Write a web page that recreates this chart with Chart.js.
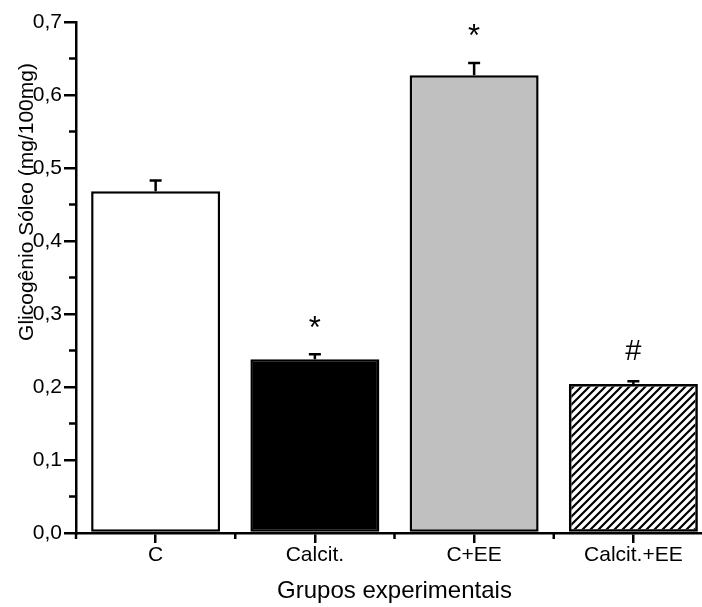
<!DOCTYPE html>
<html>
<head>
<meta charset="utf-8">
<script src="https://cdn.jsdelivr.net/npm/chart.js@4"></script>
<style>
  html, body { margin: 0; padding: 0; background: #fff; overflow: hidden; }
  #wrap { width: 716px; height: 607px; }
</style>
</head>
<body>
<div id="wrap"><canvas id="graficoBarras"></canvas></div>
<script>
const grupos = ["C", "Calcit.", "C+EE", "Calcit.+EE"];
const medias = [0.468, 0.238, 0.627, 0.204];
const erros = [0.015, 0.007, 0.017, 0.004];
const marcas = ["", "*", "*", "#"];
const ticksY = [0, 0.1, 0.2, 0.3, 0.4, 0.5, 0.6, 0.7];

// hachurado da ultima barra
function hachura() {
    const c = document.createElement("canvas");
    c.width = 8; c.height = 8;
    const g = c.getContext("2d");
    g.strokeStyle = "#000";
    g.lineWidth = 2.2;
    g.beginPath();
    g.moveTo(-2, 10); g.lineTo(10, -2);
    g.moveTo(-2, 2); g.lineTo(2, -2);
    g.moveTo(6, 10); g.lineTo(10, 6);
    g.stroke();
    return g.createPattern(c, "repeat");
}

const fonte = "'Liberation Sans', Arial, sans-serif";

const extras = {
    id: "extras",
    afterDatasetsDraw(chart) {
        const ctx = chart.ctx;
        const x = chart.scales.x, y = chart.scales.y;
        const meta = chart.getDatasetMeta(0);
        ctx.save();
        ctx.strokeStyle = "#000";
        ctx.lineWidth = 2.5;
        // barras de erro (so para cima)
        meta.data.forEach((bar, i) => {
            const yt = y.getPixelForValue(medias[i] + erros[i]);
            const yb = y.getPixelForValue(medias[i]);
            ctx.beginPath();
            ctx.moveTo(bar.x, yb); ctx.lineTo(bar.x, yt);
            ctx.moveTo(bar.x - 6, yt); ctx.lineTo(bar.x + 6, yt);
            ctx.stroke();
            if (marcas[i]) {
                ctx.fillStyle = "#000";
                ctx.textAlign = "center";
                ctx.textBaseline = "middle";
                if (marcas[i] === "#") {
                    ctx.font = "29px " + fonte;
                    ctx.fillText(marcas[i], bar.x, yt - 29);
                } else {
                    ctx.font = "31px " + fonte;
                    ctx.fillText(marcas[i], bar.x, yt - 25);
                }
            }
        });
        // ticks menores do eixo y
        for (let i = 0; i < ticksY.length - 1; i++) {
            const py = y.getPixelForValue((ticksY[i] + ticksY[i + 1]) / 2);
            ctx.beginPath();
            ctx.moveTo(x.left - 7, py); ctx.lineTo(x.left, py);
            ctx.stroke();
        }
        // ticks entre categorias no eixo x
        const passo = (x.right - x.left) / grupos.length;
        for (let i = 0; i <= grupos.length; i++) {
            const px = x.left + i * passo;
            ctx.beginPath();
            ctx.moveTo(px, y.bottom); ctx.lineTo(px, y.bottom + 6);
            ctx.stroke();
        }
        // titulo do eixo y
        ctx.translate(27, 202);
        ctx.rotate(-Math.PI / 2);
        ctx.fillStyle = "#000";
        ctx.font = "21px " + fonte;
        ctx.textAlign = "center";
        ctx.textBaseline = "middle";
        ctx.fillText("Glicogênio Sóleo (mg/100mg)", 0, 0);
        ctx.restore();
    }
};

const dataBarras = {
    labels: grupos,
    datasets: [{
        data: medias,
        backgroundColor: ["#ffffff", "#000000", "#c0c0c0", hachura()],
        borderColor: "#000",
        borderWidth: 2.5,
        borderSkipped: false,
        barPercentage: 0.81,
        categoryPercentage: 1
    }]
};

const configBarras = {
    type: "bar",
    data: dataBarras,
    options: {
        responsive: true,
        maintainAspectRatio: false,
        animation: false,
        layout: { padding: { top: 22, right: 3, left: 0, bottom: 0 } },
        plugins: { legend: { display: false }, tooltip: { enabled: false } },
        scales: {
            x: {
                offset: true,
                grid: { offset: false, drawOnChartArea: false, tickLength: 10, color: "#000", lineWidth: 2.5 },
                border: { color: "#000", width: 2.5 },
                ticks: { color: "#000", padding: 0, font: { family: fonte, size: 21 } },
                title: { display: true, text: "Grupos experimentais", color: "#000", padding: { top: 0, bottom: 1 }, font: { family: fonte, size: 24 } },
                afterFit(s) { s.height = 74; }
            },
            y: {
                min: 0,
                max: 0.7,
                afterBuildTicks(s) { s.ticks = ticksY.map(v => ({ value: v })); },
                grid: { drawOnChartArea: false, tickLength: 12, color: "#000", lineWidth: 2.5 },
                border: { color: "#000", width: 2.5 },
                ticks: {
                    color: "#000",
                    padding: 2,
                    font: { family: fonte, size: 21 },
                    callback: v => v.toFixed(1).replace(".", ",")
                },
                afterFit(s) { s.width = 76; }
            }
        }
    },
    plugins: [extras]
};

new Chart(document.querySelector("#graficoBarras"), configBarras);
</script>
</body>
</html>
